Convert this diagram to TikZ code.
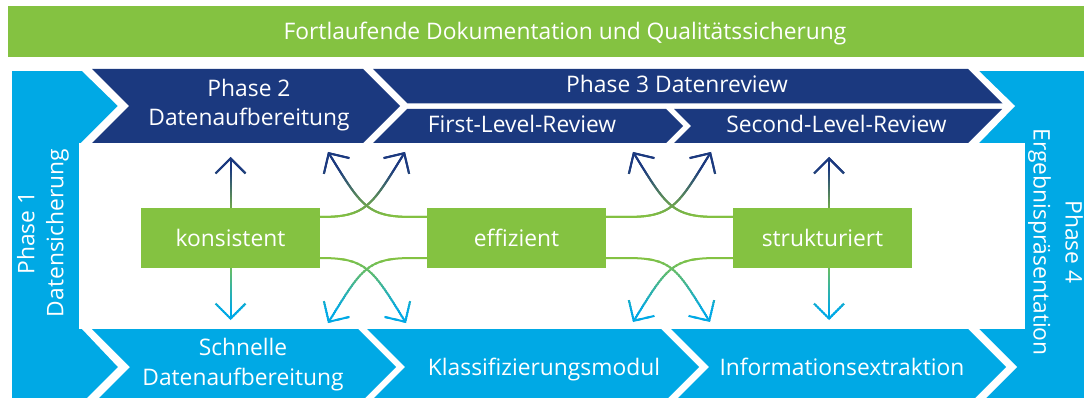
\documentclass[tikz,border=0pt]{standalone}
\usepackage{fontspec}
\setmainfont{Open Sans}
\usetikzlibrary{arrows.meta}
\definecolor{cNavy}{RGB}{27,57,127}
\definecolor{cSky}{RGB}{0,169,229}
\definecolor{cLeaf}{RGB}{132,194,65}
\newcommand\UpperConns[1]{%
  \draw[conn,#1] (k.north) -- (kt);
  \draw[conn,#1] (s.north -| st) -- (st);
  \draw[conn,#1] (kU) .. controls +(46,0) and +(-34,55) .. (a2);
  \draw[conn,#1] (eUl) -- ++(-14,0) .. controls +(-46,0) and +(34,55) .. (a1);
  \draw[conn,#1] (eUr) -- ++(20,0) .. controls +(46,0) and +(-34,55) .. (a4);
  \draw[conn,#1] (sUl) -- ++(-15,0) .. controls +(-46,0) and +(34,55) .. (a3);
}
\newcommand\LowerConns[1]{%
  \draw[conn,#1] (k.south) -- (kb);
  \draw[conn,#1] (s.south -| sb) -- (sb);
  \draw[conn,#1] (kL) .. controls +(46,0) and +(-34,-55) .. (b2);
  \draw[conn,#1] (eLl) -- ++(-14,0) .. controls +(-46,0) and +(34,-55) .. (b1);
  \draw[conn,#1] (eLr) -- ++(20,0) .. controls +(46,0) and +(-34,-55) .. (b4);
  \draw[conn,#1] (sLl) -- ++(-15,0) .. controls +(-46,0) and +(34,-55) .. (b3);
}
\begin{document}
\begin{tikzpicture}[x=1pt,y=-1pt,
  txt/.style={text=white, font=\fontsize{22.8}{29}\selectfont, inner sep=0pt},
  gbox/.style={fill=cLeaf, text=white, font=\fontsize{22.8}{29}\selectfont,
    minimum width=179pt, minimum height=60pt, inner sep=0pt, outer sep=0pt},
  conn/.style={line width=2pt, -{Straight Barb[length=15pt,width=30pt]}},
  bar/.style={fill=cLeaf, minimum width=1114pt, minimum height=51pt, inner sep=0pt, outer sep=0pt}]
\useasboundingbox (0,0) rectangle (1084,398);
\clip (0,0) rectangle (1084,398);
% top bar
\node[bar] (bar) at (565,31.5) {};
\node[txt, anchor=base] (t0) at (565,39.3) {Fortlaufende Dokumentation und Qualitätssicherung};
% frame
\fill[cSky] (12,71) rectangle (1084,405);
\fill[white] (79,143) rectangle (1025,329);
\fill[white] (82,71) -- (979,71) -- (1015,106) -- (979,143) -- (81,143) -- (118,106) -- cycle;
\fill[white] (82,329) -- (979,329) -- (1017,367) -- (979,405) -- (80,405) -- (118,367) -- cycle;
% top chevrons
\fill[cNavy] (92,69) -- (363,69) -- (400,106) -- (363,143) -- (92,143) -- (129,106) -- cycle;
\fill[cNavy] (373,69) -- (968,69) -- (1002.5,103.5) -- (407.5,103.5) -- cycle;
\fill[cNavy] (407,109) -- (666,109) -- (683,126) -- (666,143) -- (373,143) -- cycle;
\fill[cNavy] (674,109) -- (1002,109) -- (968,143) -- (674,143) -- (691,126) -- cycle;
% bottom chevrons
\fill[cSky] (92,329) -- (358,329) -- (396,367) -- (358,405) -- (92,405) -- (130,367) -- cycle;
\fill[cSky] (367,329) -- (661,329) -- (699,367) -- (661,405) -- (367,405) -- (405,367) -- cycle;
\fill[cSky] (671,329) -- (968,329) -- (1006,367) -- (968,405) -- (671,405) -- (709,367) -- cycle;
% labels
\node[txt, align=center] (t2) at (249,105) {Phase 2\\Datenaufbereitung};
\node[txt, anchor=base] (t3) at (677,93) {Phase 3 Datenreview};
\node[txt, anchor=base] (t3a) at (522,133) {First-Level-Review};
\node[txt, anchor=base] (t3b) at (836.5,133) {Second-Level-Review};
\node[txt, align=center] (tb1) at (243,364.5) {Schnelle\\[1pt]Datenaufbereitung};
\node[txt, anchor=base] (tb2) at (544,375) {Klassifizierungsmodul};
\node[txt, anchor=base] (tb3) at (842,375) {Informationsextraktion};
\node[txt, align=center, rotate=90] (t1) at (43,233) {Phase 1\\Datensicherung};
\node[txt, align=center, rotate=-90] (t4) at (1055.5,242) {Phase 4\\[3pt]Ergebnispräsentation};
% boxes
\node[gbox] (k) at (230.5,238) {konsistent};
\node[gbox] (e) at (516.5,238) {effizient};
\node[gbox] (s) at (822.5,238) {strukturiert};
% connector end points
\coordinate (kU) at ([yshift=-9pt]k.north east);
\coordinate (kL) at ([yshift=10pt]k.south east);
\coordinate (eUl) at ([yshift=-9pt]e.north west);
\coordinate (eUr) at ([yshift=-9pt]e.north east);
\coordinate (eLl) at ([yshift=10pt]e.south west);
\coordinate (eLr) at ([yshift=10pt]e.south east);
\coordinate (sUl) at ([yshift=-9pt]s.north west);
\coordinate (sLl) at ([yshift=10pt]s.south west);
\coordinate (a1) at (328,152);
\coordinate (a2) at (405,152);
\coordinate (a3) at (633,152);
\coordinate (a4) at (711,152);
\coordinate (b1) at (328,323);
\coordinate (b2) at (406,323);
\coordinate (b3) at (633,322);
\coordinate (b4) at (710,322);
\coordinate (kt) at (230.5,157);
\coordinate (kb) at (230.5,320);
\coordinate (st) at (829,157);
\coordinate (sb) at (829,320);
% gradient connectors
\foreach \i in {0,...,40}{
  \pgfmathsetmacro\ya{140+2*\i}
  \pgfmathsetmacro\yb{\ya+2.4}
  \pgfmathsetmacro\p{max(0,min(100,(217-\ya)*100/48))}
  \begin{scope}
    \clip (0,\ya) rectangle (1084,\yb);
    \UpperConns{cNavy!\p!cLeaf}
  \end{scope}
}
\foreach \i in {0,...,42}{
  \pgfmathsetmacro\ya{250+2*\i}
  \pgfmathsetmacro\yb{\ya+2.4}
  \pgfmathsetmacro\p{max(0,min(100,(\ya-257)*100/52))}
  \begin{scope}
    \clip (0,\ya) rectangle (1084,\yb);
    \LowerConns{cSky!\p!cLeaf}
  \end{scope}
}
\end{tikzpicture}
\end{document}
